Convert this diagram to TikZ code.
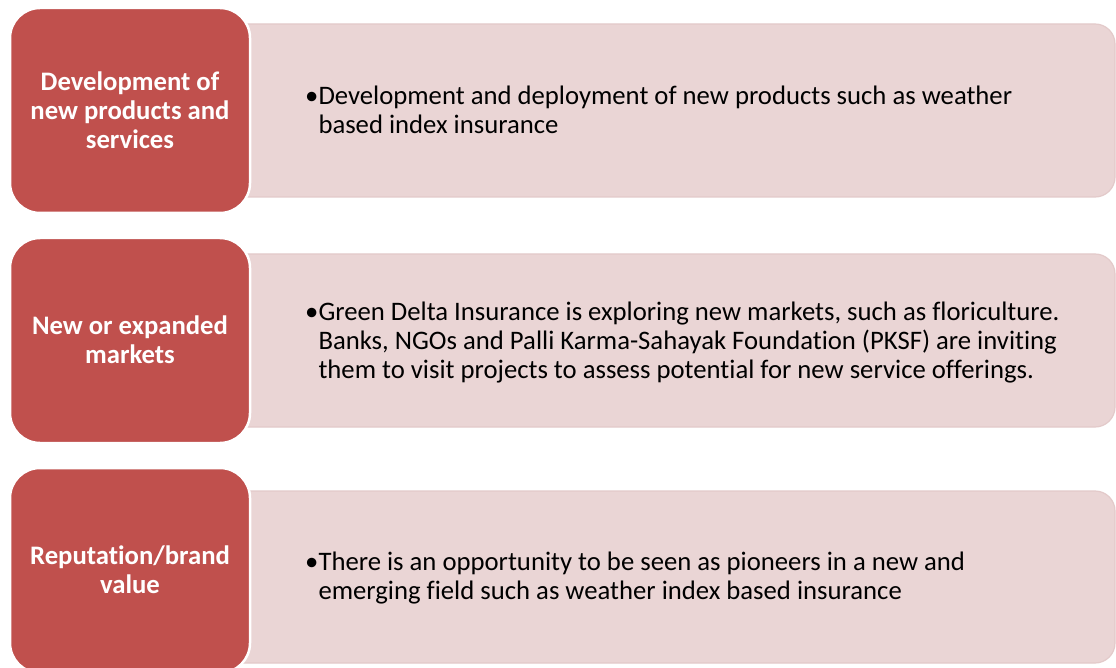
\documentclass[tikz,border=0pt]{standalone}
\usepackage{fontspec}
\setmainfont{Carlito}[Ligatures={NoCommon}]
\definecolor{hdred}{HTML}{C0504D}
\definecolor{bodypink}{HTML}{EAD5D5}
\definecolor{bodyline}{HTML}{E3CACA}
\begin{document}
\begin{tikzpicture}[x=1pt,y=-1pt,
  headbox/.style={fill=hdred,draw=white,line width=2.5pt,rounded corners=30pt},
  bodybox/.style={fill=bodypink,draw=bodyline,line width=1.2pt,rounded corners=20pt},
  headtext/.style={text=white,font=\fontsize{26.7}{29}\selectfont\bfseries,align=center,inner sep=0pt},
  bodytext/.style={text=black,font=\fontsize{26.7}{28.8}\selectfont,anchor=west,inner sep=0pt}]
\useasboundingbox (0,0) rectangle (1116,668);
\fill[white] (0,0) rectangle (1116,668);
% row 1
\draw[bodybox] (200,24) rectangle (1115,197);
\draw[headbox] (10,8) rectangle (250,213);
\node[headtext] (h1) at (130,110) {Development of\\new products and\\services};
\node[bodytext] (b1) at (305,113) {\begin{tabular}{@{}l@{}l@{}}\textbullet&Development and deployment of new products such as weather\\&based index insurance\end{tabular}};
% row 2
\draw[bodybox] (200,254) rectangle (1115,427);
\draw[headbox] (10,238) rectangle (250,443);
\node[headtext] (h2) at (130,340) {New or expanded\\markets};
\node[bodytext] (b2) at (305,344) {\begin{tabular}{@{}l@{}l@{}}\textbullet&Green Delta Insurance is exploring new markets, such as floriculture.\\&Banks, NGOs and Palli Karma-Sahayak Foundation (PKSF) are inviting\\&them to visit projects to assess potential for new service offerings.\end{tabular}};
% row 3
\draw[bodybox] (200,491) rectangle (1115,663);
\draw[headbox] (10,468) rectangle (250,673);
\node[headtext] (h3) at (130,570) {Reputation/brand\\value};
\node[bodytext] (b3) at (305,579.5) {\begin{tabular}{@{}l@{}l@{}}\textbullet&There is an opportunity to be seen as pioneers in a new and\\&emerging field such as weather index based insurance\end{tabular}};
\end{tikzpicture}
\end{document}
